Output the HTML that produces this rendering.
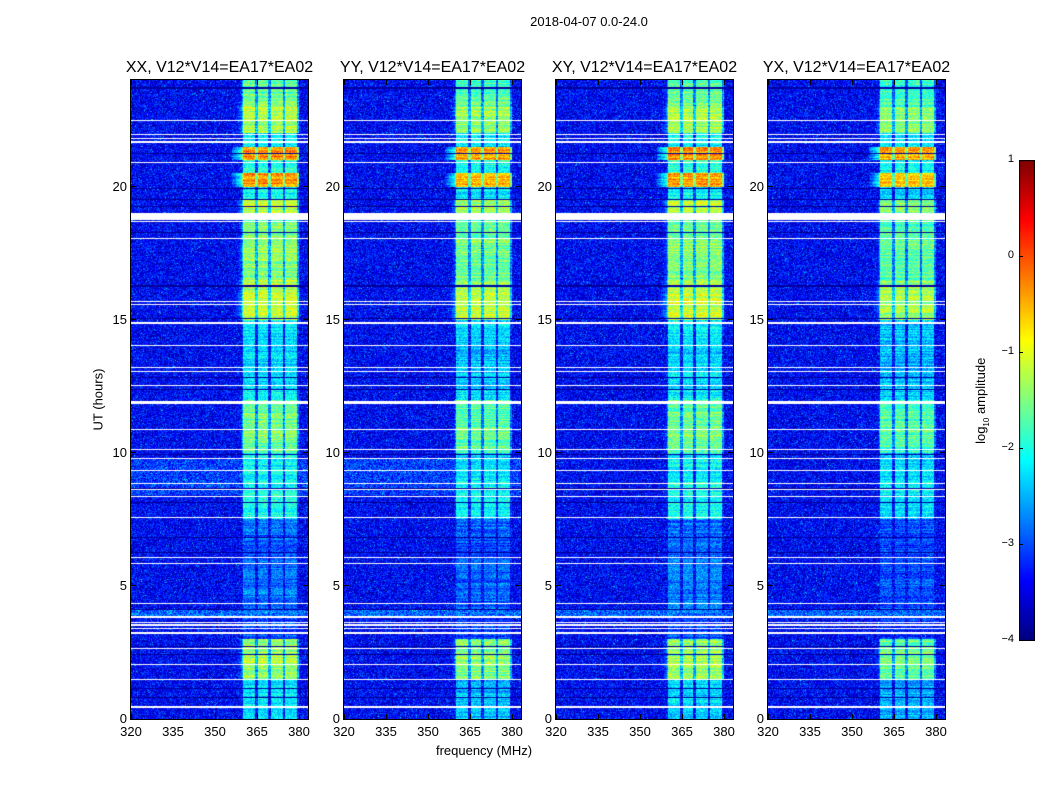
<!DOCTYPE html>
<html><head><meta charset="utf-8">
<style>
body{margin:0;background:#fff;width:1050px;height:800px;overflow:hidden;font-family:"Liberation Sans",sans-serif;}
.abs{position:absolute;}
</style></head>
<body>
<div id="root" class="abs" style="left:0;top:0;width:1050px;height:800px;">
<div class="abs" style="left:489px;top:14px;width:200px;text-align:center;font-size:13px;">2018-04-07 0.0-24.0</div>
<div class="abs" style="left:28px;top:392px;width:140px;text-align:center;font-size:13px;transform:rotate(-90deg);">UT (hours)</div>
<div class="abs" style="left:384px;top:743px;width:200px;text-align:center;font-size:13px;">frequency (MHz)</div>
<canvas id="cb" class="abs" style="left:1019px;top:160px;" width="16" height="481"></canvas>
<div class="abs" style="left:920px;top:392px;width:124px;text-align:center;font-size:13px;transform:rotate(-90deg);">log<sub style="font-size:8px">10</sub> amplitude</div>
</div>
<script>
const freqTicks=[320,335,350,365,380];
const timeTicks=[0,5,10,15,20];
const cbTicks=[1,0,-1,-2,-3,-4];
const panelTitles=["XX, V12*V14=EA17*EA02","YY, V12*V14=EA17*EA02","XY, V12*V14=EA17*EA02","YX, V12*V14=EA17*EA02"];
const panelOffset=[0,-0.1,0,-0.2];
// RFI activity (log10 amp) per half hour, 0..24h
const activity=[-2.3,-2.3,-2.4,-1.4,-1.3,-1.4,-3.0,-3.0,-2.8,-2.8,-2.8,-2.8,-2.9,-2.9,-2.8,-2.0,-2.0,-2.0,-2.1,-2.1,-1.6,-1.5,-1.6,-1.6,-2.2,-2.2,-2.3,-2.3,-2.2,-2.2,-1.1,-1.1,-1.2,-1.5,-1.5,-1.4,-1.5,-1.6,-1.2,-2.1,-0.4,-1.9,-0.3,-2.1,-1.3,-1.2,-1.6,-1.7];
const rfiBands=[[360,364.3],[365.4,369],[370,374.3],[375,379.3]];
const whiteRows=[[22.45,22.5],[21.65,21.7],[21.78,21.83],[21.92,21.99],[20.88,20.92],[18.76,18.99],[18.67,18.71],[18.03,18.07],[15.66,15.7],[15.55,15.59],[14.82,14.92],[14.01,14.05],[13.18,13.22],[13.04,13.08],[12.51,12.55],[11.84,11.96],[10.86,10.9],[10.11,10.15],[9.77,9.81],[9.32,9.36],[8.83,8.87],[8.61,8.65],[8.35,8.39],[7.56,7.6],[6.06,6.1],[5.83,5.87],[4.33,4.37],[3.81,3.86],[3.62,3.66],[3.51,3.55],[3.39,3.43],[3.21,3.25],[2.64,2.68],[2.04,2.08],[1.48,1.52],[0.43,0.47]];
const darkRows=[[23.68,23.72],[21.22,21.26],[19.9,19.94],[19.48,19.52],[19.23,19.27],[18.25,18.29],[16.21,16.29],[15.03,15.07],[12.81,12.85],[12.36,12.4],[9.92,9.96],[8.65,8.69],[8.12,8.16],[6.81,6.85],[6.25,6.29],[4.11,4.15],[2.72,2.76],[2.42,2.46],[1.11,1.15],[0.77,0.81]];
const bgBoost=[[3.86,4.1,0.5],[8.4,9.75,0.3]];
const PX=[131,344,556,768], PT=80, PW=177, PH=639;
const FMIN=320,FMAX=383.2,TMIN=0,TMAX=24;
function xs(f){return (f-FMIN)/(FMAX-FMIN)*PW;}
function ys(t){return PH-(t-TMIN)/(TMAX-TMIN)*PH;}
function tOfRow(r){return TMAX-(r+0.5)/PH*(TMAX-TMIN);}
function fOfCol(c){return FMIN+(c+0.5)/PW*(FMAX-FMIN);}
function jet(v){let x=(v+4)/5;x=Math.max(0,Math.min(1,x));const cl=a=>Math.max(0,Math.min(1,a));return [cl(1.5-Math.abs(4*x-3))*255,cl(1.5-Math.abs(4*x-2))*255,cl(1.5-Math.abs(4*x-1))*255];}
function hash(a,b,c){let h=(a*374761393+b*668265263+c*2246822519)>>>0;h=(h^(h>>>13))*1274126177>>>0;h^=h>>>16;return (h>>>0)/4294967296;}
function inAny(list,t){for(const r of list){if(t>=r[0]&&t<=r[1])return r;}return null;}
const root=document.getElementById('root');
function mk(tag,css,name,txt){const e=document.createElement(tag);e.className='abs';e.style.cssText=css;if(txt!==undefined)e.textContent=txt;root.appendChild(e);return e;}
for(let p=0;p<4;p++){
  const cv=mk('canvas','left:'+PX[p]+'px;top:'+PT+'px;');
  
  
  cv.width=PW;cv.height=PH;
  const ctx=cv.getContext('2d');const img=ctx.createImageData(PW,PH);
  const rowType=new Array(PH).fill(0);
  for(const r of whiteRows){const a=Math.round(ys(r[1])),b=Math.max(a+1,Math.round(ys(r[0])));for(let y=a;y<b&&y<PH;y++)if(y>=0)rowType[y]=1;}
  for(const r of darkRows){const a=Math.round(ys(r[1])),b=Math.max(a+1,Math.round(ys(r[0])));for(let y=a;y<b&&y<PH;y++)if(y>=0&&rowType[y]==0)rowType[y]=2;}
  for(let y=0;y<PH;y++){
    const t=tOfRow(y);const ai=Math.min(activity.length-1,Math.floor(t/0.5));
    const rowVar=(hash(y,7,p+11)-0.5)*0.5;
    const act=activity[ai]+panelOffset[p]+rowVar;
    const bb=inAny(bgBoost,t);const boost=bb?(p<2||bb[2]>0.4?bb[2]:0):0;
    for(let x=0;x<PW;x++){
      const i=(y*PW+x)*4;let c;
      if(rowType[y]==1){c=[255,255,255];}
      else{
        const f=fOfCol(x);const n=hash(x,y,p+1);const n2=hash(y,x,p+5);
        let v=-3.4+boost+(n-0.5)*1.0;
        if(n2>0.97)v+=0.6;
        if(rowType[y]==2)v=-3.85+(n-0.5)*0.3;
        else{
          let inb=false;for(const b of rfiBands){if(f>=b[0]&&f<=b[1])inb=true;}
          if(inb)v=Math.max(v,act+(n-0.5)*0.7);
          else if(f>359.5&&f<380)v=Math.max(v,act-1.1+(n-0.5)*0.8);
          else if(f>356&&f<=359.5)v=Math.max(v,act-1.6-(359.5-f)*0.3+(n-0.5)*0.6);
        }
        c=jet(v);
      }
      img.data[i]=c[0];img.data[i+1]=c[1];img.data[i+2]=c[2];img.data[i+3]=255;
    }
  }
  ctx.putImageData(img,0,0);
  const fr=mk('div','left:'+(PX[p]-1)+'px;top:'+(PT-1)+'px;width:'+PW+'px;height:'+PH+'px;border:1px solid #000;');
  
  
  const ti=mk('div','left:'+(PX[p]-30)+'px;top:59px;width:'+(PW+60)+'px;text-align:center;font-size:16px;white-space:nowrap;','',panelTitles[p]);
  
  
  for(const f of freqTicks){
    const x=PX[p]+xs(f);
    const tk=mk('div','left:'+(x-0.5)+'px;top:'+(PT+PH-5)+'px;width:1px;height:5px;background:#000;');
    
    
    const tk2=mk('div','left:'+(x-0.5)+'px;top:'+PT+'px;width:1px;height:5px;background:#000;');
    
    
    const lb=mk('div','left:'+(x-20)+'px;top:'+(PT+PH+5)+'px;width:40px;text-align:center;font-size:13px;','',String(f));
    
    
  }
  for(const t of timeTicks){
    const y=PT+ys(t);
    const tk=mk('div','left:'+PX[p]+'px;top:'+(y-0.5)+'px;width:5px;height:1px;background:#000;');
    
    
    const tk2=mk('div','left:'+(PX[p]+PW-5)+'px;top:'+(y-0.5)+'px;width:5px;height:1px;background:#000;');
    
    
    const lb=mk('div','left:'+(PX[p]-44)+'px;top:'+(y-8)+'px;width:40px;text-align:right;font-size:13px;','',String(t));
    
    
  }
}
const cb=document.getElementById('cb');const cctx=cb.getContext('2d');
const CBH=481;
for(let y=0;y<CBH;y++){const v=1-5*y/(CBH-1);const c=jet(v);cctx.fillStyle='rgb('+c.map(Math.round).join(',')+')';cctx.fillRect(0,y,16,1);}
cctx.strokeStyle='#000';cctx.strokeRect(0.5,0.5,15,CBH-1);
for(const v of cbTicks){
  const y=160+(1-v)/5*(CBH-1);
  const tk=mk('div','left:1019px;top:'+(y-0.5)+'px;width:4px;height:1px;background:#000;');
  
  
  const lb=mk('div','left:983px;top:'+(y-7)+'px;width:31px;text-align:right;font-size:11px;','',(v<0?'\u2212':'')+Math.abs(v));
  
  
}
</script>
</body></html>
